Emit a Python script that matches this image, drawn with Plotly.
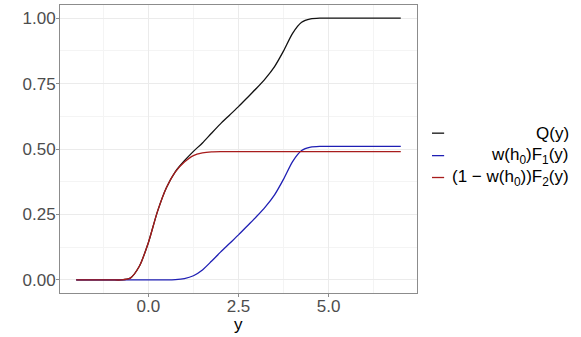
import plotly.graph_objects as go

# data
y_grid = [-2.0, -1.75, -1.5, -1.25, -1.0, -0.75, -0.5, -0.25, 0.0, 0.25, 0.5, 0.75,
          1.0, 1.25, 1.5, 1.75, 2.0, 2.25, 2.5, 2.75, 3.0, 3.25, 3.5, 3.75,
          4.0, 4.25, 4.5, 4.75, 5.0, 5.25, 5.5, 5.75, 6.0, 6.25, 6.5, 6.75, 7.0]
wF1 = [0, 0, 0, 0, 0, 0, 0, 0, 0, 0, 0, 0.001,
       0.005, 0.016, 0.038, 0.071, 0.106, 0.139, 0.172, 0.207, 0.242, 0.280, 0.325, 0.385,
       0.452, 0.494, 0.507, 0.510, 0.510, 0.510, 0.510, 0.510, 0.510, 0.510, 0.510, 0.510, 0.510]
w1F2 = [0, 0, 0, 0, 0, 0, 0.007, 0.052, 0.142, 0.260, 0.352, 0.413,
        0.450, 0.475, 0.485, 0.489, 0.490, 0.490, 0.490, 0.490, 0.490, 0.490, 0.490, 0.490,
        0.490, 0.490, 0.490, 0.490, 0.490, 0.490, 0.490, 0.490, 0.490, 0.490, 0.490, 0.490, 0.490]
Q = [a + b for a, b in zip(wF1, w1F2)]

names = ["Q(y)", "w(h<sub>0</sub>)F<sub>1</sub>(y)", "(1 \u2212 w(h<sub>0</sub>))F<sub>2</sub>(y)"]
colors = ["#111111", "#1f1fb4", "#a81c1c"]
series = [Q, wF1, w1F2]

x_major = [0, 2.5, 5.0]
x_labels = ["0.0", "2.5", "5.0"]
x_minor = [-1.25, 1.25, 3.75, 6.25]
y_major = [0, 0.25, 0.5, 0.75, 1.0]
y_labels = ["0.00", "0.25", "0.50", "0.75", "1.00"]
y_minor = [0.125, 0.375, 0.625, 0.875]

fig = go.Figure()
for s, n, c in zip(series, names, colors):
    fig.add_trace(go.Scatter(x=y_grid, y=s, mode="lines", name=n,
                             line=dict(color=c, width=1.3, shape="spline", smoothing=0.7),
                             showlegend=False))

border = "#8c8c8c"
font = "Liberation Sans, Arial, sans-serif"
fig.update_layout(
    width=581, height=337,
    margin=dict(l=60, r=164, t=5, b=44, autoexpand=False),
    paper_bgcolor="white", plot_bgcolor="white",
    font=dict(family=font, size=17, color="#4d4d4d"),
    xaxis=dict(range=[-2.45, 7.45], tickvals=x_major, ticktext=x_labels, automargin=False,
               showgrid=True, gridcolor="#ebebeb", gridwidth=1,
               minor=dict(tickvals=x_minor, showgrid=True, gridcolor="#f4f4f4", gridwidth=1, ticks=""),
               showline=True, mirror=True, linecolor=border, linewidth=1,
               ticks="outside", ticklen=3, tickcolor=border, zeroline=False,
               ticklabelstandoff=-5),
    yaxis=dict(range=[-0.05, 1.05], tickvals=y_major, ticktext=y_labels, automargin=False,
               showgrid=True, gridcolor="#ebebeb", gridwidth=1,
               minor=dict(tickvals=y_minor, showgrid=True, gridcolor="#f4f4f4", gridwidth=1, ticks=""),
               showline=True, mirror=True, linecolor=border, linewidth=1,
               ticks="outside", ticklen=3, tickcolor=border, zeroline=False,
               ticklabelstandoff=-3),
)

# x axis title
fig.add_annotation(xref="paper", yref="paper", x=0.5, y=-0.108, xanchor="center", yanchor="middle",
                   text="y", showarrow=False, font=dict(size=17, color="#000000", family=font))

# legend drawn as keys + right-aligned labels
key_y = [0.555, 0.477, 0.401]
for n, c, ky in zip(names, colors, key_y):
    fig.add_shape(type="line", xref="paper", yref="paper", x0=1.042, x1=1.076, y0=ky, y1=ky,
                  line=dict(color=c, width=1.3))
    fig.add_annotation(xref="paper", yref="paper", x=1.431, y=ky, xanchor="right", yanchor="middle",
                       text=n, showarrow=False, font=dict(size=17, color="#000000", family=font))

fig.write_html("out.html", config={"displayModeBar": False},
               post_script="document.body.style.margin='0px';")
